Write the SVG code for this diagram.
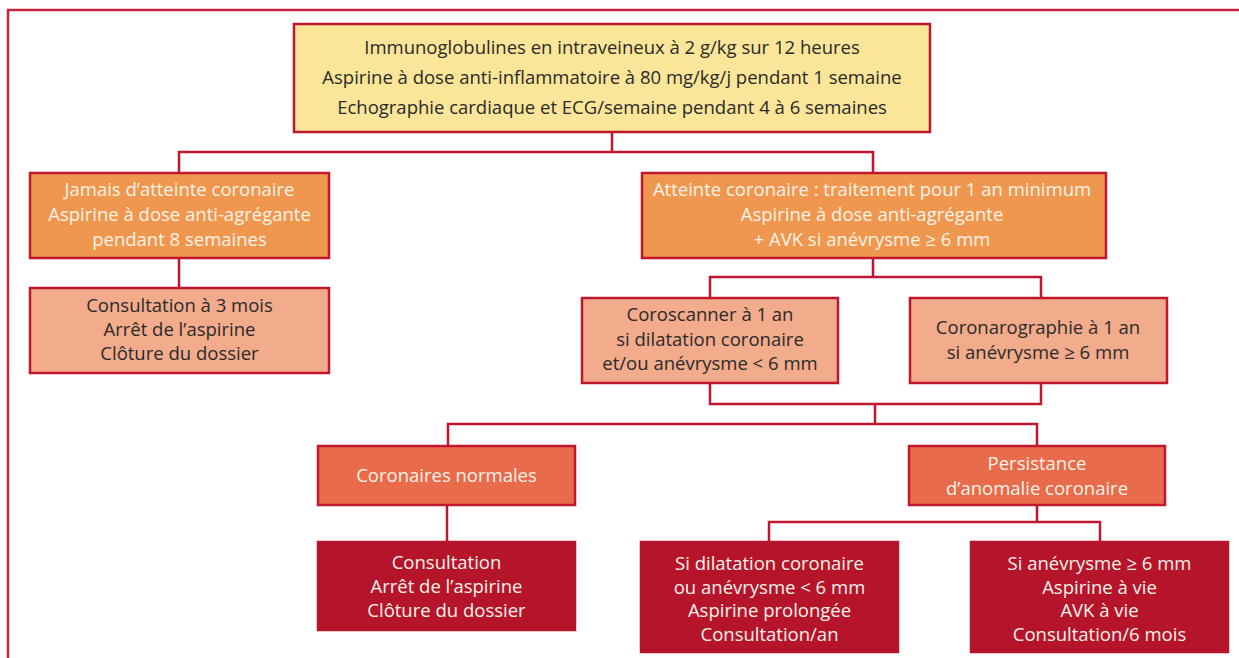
<svg xmlns="http://www.w3.org/2000/svg" width="1239" height="658" viewBox="0 0 1239 658">
<style>
  .box { stroke: #C0172F; stroke-width: 2.5; }
  .yellow { fill: #FAE598; }
  .orange { fill: #F0974F; }
  .salmon { fill: #F2AB8B; }
  .redorange { fill: #E86B4B; }
  .darkred { fill: #B5142B; stroke: #B5142B; }
  text { font-family: "Open Sans", "Noto Sans", sans-serif; font-size: 18.5px; text-anchor: middle; }
  .dark { fill: #2A2A2A; }
  .light { fill: #FFF3E8; }
  .conn { fill: none; stroke: #C0172F; stroke-width: 2.5; }
  .frame { fill: none; stroke: #C8243E; stroke-width: 2.5; }
</style>
<rect width="1239" height="658" fill="#FFFFFF"/>
<path class="frame" d="M8,658 V10 H1239"/>
<g id="connectors">
  <path class="conn" d="M612,132 V152 M179,173 V152 H873 V173"/>
  <path class="conn" d="M179,258 V288"/>
  <path class="conn" d="M873,258 V277 M710,298 V277 H1041 V298"/>
  <path class="conn" d="M710,383 V404 H1041 V383 M875,404 V424 M448,446 V424 H1037 V446"/>
  <path class="conn" d="M447,505 V542"/>
  <path class="conn" d="M1037,505 V522 M769,542 V522 H1100 V542"/>
</g>
<g id="node-top">
  <rect class="box yellow" x="294" y="24" width="636" height="108"/>
  <text class="dark" x="612" y="54">Immunoglobulines en intraveineux à 2 g/kg sur 12 heures</text>
  <text class="dark" x="612" y="84">Aspirine à dose anti-inflammatoire à 80 mg/kg/j pendant 1 semaine</text>
  <text class="dark" x="612" y="114">Echographie cardiaque et ECG/semaine pendant 4 à 6 semaines</text>
</g>
<g id="node-jamais">
  <rect class="box orange" x="30" y="173" width="299" height="85"/>
  <text class="light" x="179.5" y="196">Jamais d’atteinte coronaire</text>
  <text class="light" x="179.5" y="221">Aspirine à dose anti-agrégante</text>
  <text class="light" x="179.5" y="246">pendant 8 semaines</text>
</g>
<g id="node-atteinte">
  <rect class="box orange" x="642" y="173" width="464" height="85"/>
  <text class="light" x="872" y="196">Atteinte coronaire : traitement pour 1 an minimum</text>
  <text class="light" x="872" y="221">Aspirine à dose anti-agrégante</text>
  <text class="light" x="872" y="246">+ AVK si anévrysme ≥ 6 mm</text>
</g>
<g id="node-consult3">
  <rect class="box salmon" x="30" y="288" width="299" height="85"/>
  <text class="dark" x="179.5" y="312">Consultation à 3 mois</text>
  <text class="dark" x="179.5" y="336">Arrêt de l’aspirine</text>
  <text class="dark" x="179.5" y="360">Clôture du dossier</text>
</g>
<g id="node-coroscanner">
  <rect class="box salmon" x="582" y="298" width="256" height="85"/>
  <text class="dark" x="710" y="321">Coroscanner à 1 an</text>
  <text class="dark" x="710" y="346">si dilatation coronaire</text>
  <text class="dark" x="710" y="370">et/ou anévrysme &lt; 6 mm</text>
</g>
<g id="node-coronarographie">
  <rect class="box salmon" x="910" y="298" width="257" height="85"/>
  <text class="dark" x="1038" y="334">Coronarographie à 1 an</text>
  <text class="dark" x="1038" y="359">si anévrysme ≥ 6 mm</text>
</g>
<g id="node-normales">
  <rect class="box redorange" x="318" y="446" width="257" height="59"/>
  <text class="light" x="446.5" y="482">Coronaires normales</text>
</g>
<g id="node-persistance">
  <rect class="box redorange" x="909" y="446" width="256" height="59"/>
  <text class="light" x="1037" y="470">Persistance</text>
  <text class="light" x="1037" y="495">d’anomalie coronaire</text>
</g>
<g id="node-consultation">
  <rect class="box darkred" x="318" y="542" width="257" height="88"/>
  <text class="light" x="446.5" y="569">Consultation</text>
  <text class="light" x="446.5" y="593">Arrêt de l’aspirine</text>
  <text class="light" x="446.5" y="617">Clôture du dossier</text>
</g>
<g id="node-dilatation">
  <rect class="box darkred" x="641" y="542" width="257" height="110"/>
  <text class="light" x="769.5" y="570">Si dilatation coronaire</text>
  <text class="light" x="769.5" y="594">ou anévrysme &lt; 6 mm</text>
  <text class="light" x="769.5" y="617">Aspirine prolongée</text>
  <text class="light" x="769.5" y="641">Consultation/an</text>
</g>
<g id="node-anevrysme">
  <rect class="box darkred" x="971" y="542" width="257" height="110"/>
  <text class="light" x="1099.5" y="570">Si anévrysme ≥ 6 mm</text>
  <text class="light" x="1099.5" y="594">Aspirine à vie</text>
  <text class="light" x="1099.5" y="617">AVK à vie</text>
  <text class="light" x="1099.5" y="641">Consultation/6 mois</text>
</g>
</svg>
